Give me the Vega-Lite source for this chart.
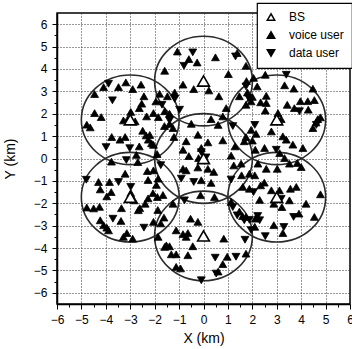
{
  "$schema": "https://vega.github.io/schema/vega-lite/v6.json",
  "width": 293,
  "height": 291,
  "autosize": {"type": "none"},
  "padding": {"left": 57, "top": 13, "right": 2, "bottom": 45},
  "background": "white",
  "config": {
    "font": "Liberation Sans",
    "view": {"stroke": "black", "strokeWidth": 1.5},
    "axis": {
      "domainColor": "black",
      "domainWidth": 1.5,
      "tickColor": "black",
      "tickWidth": 1,
      "labelColor": "black",
      "titleColor": "black",
      "labelFont": "Liberation Sans",
      "titleFont": "Liberation Sans",
      "labelFontSize": 12,
      "titleFontSize": 14,
      "titleFontWeight": "normal",
      "gridColor": "#333333",
      "gridDash": [1, 2],
      "gridWidth": 1,
      "labelOverlap": false,
      "labelFlush": false
    },
    "legend": {"strokeWidth": 1.2}
  },
  "datasets": {
    "cells": [
      {"x": 0, "y": 0}, {"x": 0, "y": 3.46}, {"x": 0, "y": -3.46},
      {"x": 3, "y": 1.73}, {"x": 3, "y": -1.73}, {"x": -3, "y": 1.73}, {"x": -3, "y": -1.73}
    ],
    "stations": [
      {"x": 0, "y": 0, "type": "BS"}, {"x": 0, "y": 3.46, "type": "BS"}, {"x": 0, "y": -3.46, "type": "BS"},
      {"x": 3, "y": 1.73, "type": "BS"}, {"x": 3, "y": -1.73, "type": "BS"}, {"x": -3, "y": 1.73, "type": "BS"}, {"x": -3, "y": -1.73, "type": "BS"}
    ],
    "users": [
      {"x": -4.09, "y": 3.19, "type": "voice user"}, {"x": -3.48, "y": 3.19, "type": "voice user"}, {"x": -3.18, "y": 3.40, "type": "voice user"},
      {"x": -2.90, "y": 3.10, "type": "voice user"}, {"x": -2.56, "y": 3.30, "type": "voice user"}, {"x": -4.46, "y": 2.88, "type": "voice user"},
      {"x": -2.44, "y": 2.78, "type": "voice user"}, {"x": -2.53, "y": 2.45, "type": "voice user"}, {"x": -2.63, "y": 2.25, "type": "voice user"},
      {"x": -2.05, "y": 2.03, "type": "voice user"}, {"x": -4.46, "y": 2.03, "type": "voice user"}, {"x": -4.19, "y": 1.85, "type": "voice user"},
      {"x": -2.98, "y": 2.08, "type": "voice user"}, {"x": -3.10, "y": 1.76, "type": "voice user"}, {"x": -2.80, "y": 1.66, "type": "voice user"},
      {"x": -3.28, "y": 1.70, "type": "voice user"}, {"x": -2.33, "y": 1.88, "type": "voice user"}, {"x": -4.78, "y": 1.51, "type": "voice user"},
      {"x": -4.64, "y": 1.39, "type": "voice user"}, {"x": -2.49, "y": 1.24, "type": "voice user"}, {"x": -2.35, "y": 1.03, "type": "voice user"},
      {"x": -3.76, "y": 0.96, "type": "voice user"}, {"x": -3.42, "y": 0.84, "type": "voice user"}, {"x": -3.21, "y": 0.96, "type": "voice user"},
      {"x": -2.26, "y": 0.84, "type": "voice user"}, {"x": -2.63, "y": 0.54, "type": "voice user"}, {"x": -2.05, "y": 0.61, "type": "voice user"},
      {"x": -2.75, "y": 0.16, "type": "voice user"}, {"x": -3.77, "y": -0.14, "type": "voice user"}, {"x": -2.20, "y": 1.05, "type": "voice user"},
      {"x": -2.13, "y": 0.68, "type": "voice user"},
      {"x": -1.07, "y": 4.78, "type": "voice user"}, {"x": -0.60, "y": 4.44, "type": "voice user"}, {"x": -0.26, "y": 4.29, "type": "voice user"},
      {"x": 0.49, "y": 4.52, "type": "voice user"}, {"x": 1.38, "y": 4.71, "type": "voice user"}, {"x": 1.74, "y": 4.14, "type": "voice user"},
      {"x": -1.59, "y": 3.92, "type": "voice user"}, {"x": 1.02, "y": 3.77, "type": "voice user"}, {"x": -0.84, "y": 3.30, "type": "voice user"},
      {"x": -0.40, "y": 3.10, "type": "voice user"}, {"x": 0.22, "y": 3.04, "type": "voice user"}, {"x": -1.18, "y": 2.95, "type": "voice user"},
      {"x": 1.76, "y": 3.46, "type": "voice user"}, {"x": 0.63, "y": 2.78, "type": "voice user"}, {"x": 1.47, "y": 2.78, "type": "voice user"},
      {"x": -1.80, "y": 2.89, "type": "voice user"}, {"x": -1.48, "y": 2.78, "type": "voice user"}, {"x": 1.74, "y": 2.40, "type": "voice user"},
      {"x": 0.93, "y": 2.25, "type": "voice user"}, {"x": -1.59, "y": 2.11, "type": "voice user"}, {"x": -1.39, "y": 2.00, "type": "voice user"},
      {"x": 0.31, "y": 1.76, "type": "voice user"}, {"x": 0.79, "y": 1.88, "type": "voice user"}, {"x": -1.39, "y": 1.55, "type": "voice user"},
      {"x": -1.25, "y": 1.36, "type": "voice user"}, {"x": -1.21, "y": 0.96, "type": "voice user"}, {"x": -0.71, "y": 0.77, "type": "voice user"},
      {"x": -0.23, "y": 1.06, "type": "voice user"}, {"x": 0.18, "y": 0.72, "type": "voice user"}, {"x": 0.79, "y": 0.81, "type": "voice user"},
      {"x": -0.09, "y": 0.47, "type": "voice user"}, {"x": -0.84, "y": 0.39, "type": "voice user"}, {"x": 1.29, "y": 0.54, "type": "voice user"},
      {"x": 1.74, "y": 0.96, "type": "voice user"}, {"x": 1.95, "y": 1.28, "type": "voice user"}, {"x": 1.67, "y": 0.77, "type": "voice user"},
      {"x": 1.13, "y": 0.13, "type": "voice user"}, {"x": -0.60, "y": 0.11, "type": "voice user"}, {"x": -0.20, "y": 0.02, "type": "voice user"},
      {"x": 2.53, "y": 3.74, "type": "voice user"}, {"x": 2.20, "y": 3.22, "type": "voice user"}, {"x": 3.32, "y": 3.27, "type": "voice user"},
      {"x": 3.70, "y": 3.12, "type": "voice user"}, {"x": 4.48, "y": 3.12, "type": "voice user"}, {"x": 2.57, "y": 2.80, "type": "voice user"},
      {"x": 2.34, "y": 2.51, "type": "voice user"}, {"x": 2.57, "y": 2.48, "type": "voice user"}, {"x": 3.43, "y": 2.40, "type": "voice user"},
      {"x": 3.97, "y": 2.56, "type": "voice user"}, {"x": 4.27, "y": 2.56, "type": "voice user"}, {"x": 4.54, "y": 2.61, "type": "voice user"},
      {"x": 3.72, "y": 2.25, "type": "voice user"}, {"x": 4.29, "y": 2.18, "type": "voice user"}, {"x": 2.53, "y": 2.14, "type": "voice user"},
      {"x": 3.05, "y": 2.03, "type": "voice user"}, {"x": 3.18, "y": 1.76, "type": "voice user"}, {"x": 4.68, "y": 1.76, "type": "voice user"},
      {"x": 4.61, "y": 1.61, "type": "voice user"}, {"x": 4.48, "y": 1.36, "type": "voice user"}, {"x": 4.79, "y": 1.84, "type": "voice user"},
      {"x": 2.78, "y": 1.21, "type": "voice user"}, {"x": 3.25, "y": 0.99, "type": "voice user"}, {"x": 3.39, "y": 0.84, "type": "voice user"},
      {"x": 3.66, "y": 0.62, "type": "voice user"}, {"x": 4.07, "y": 0.47, "type": "voice user"}, {"x": 2.50, "y": 0.47, "type": "voice user"},
      {"x": 3.12, "y": 0.24, "type": "voice user"}, {"x": 3.32, "y": 0.02, "type": "voice user"}, {"x": 2.12, "y": 0.39, "type": "voice user"},
      {"x": -2.69, "y": -0.16, "type": "voice user"}, {"x": -3.21, "y": -0.68, "type": "voice user"}, {"x": -2.30, "y": -0.56, "type": "voice user"},
      {"x": -4.30, "y": -1.05, "type": "voice user"}, {"x": -3.85, "y": -1.05, "type": "voice user"}, {"x": -4.23, "y": -1.38, "type": "voice user"},
      {"x": -3.78, "y": -1.50, "type": "voice user"}, {"x": -2.98, "y": -1.54, "type": "voice user"}, {"x": -3.96, "y": -1.69, "type": "voice user"},
      {"x": -2.84, "y": -1.87, "type": "voice user"}, {"x": -2.39, "y": -2.02, "type": "voice user"}, {"x": -4.78, "y": -2.19, "type": "voice user"},
      {"x": -4.50, "y": -2.23, "type": "voice user"}, {"x": -4.26, "y": -2.16, "type": "voice user"}, {"x": -2.67, "y": -2.31, "type": "voice user"},
      {"x": -4.23, "y": -2.76, "type": "voice user"}, {"x": -3.38, "y": -2.79, "type": "voice user"}, {"x": -4.09, "y": -2.98, "type": "voice user"},
      {"x": -3.96, "y": -3.09, "type": "voice user"}, {"x": -3.89, "y": -3.21, "type": "voice user"}, {"x": -2.05, "y": -2.83, "type": "voice user"},
      {"x": -3.14, "y": -3.33, "type": "voice user"}, {"x": -3.28, "y": -3.50, "type": "voice user"}, {"x": -2.90, "y": -3.58, "type": "voice user"},
      {"x": -2.05, "y": -0.53, "type": "voice user"}, {"x": -2.27, "y": -0.96, "type": "voice user"}, {"x": -1.93, "y": -1.18, "type": "voice user"},
      {"x": -2.27, "y": -1.78, "type": "voice user"}, {"x": -2.61, "y": -2.22, "type": "voice user"}, {"x": -1.87, "y": -2.30, "type": "voice user"},
      {"x": -3.36, "y": -2.22, "type": "voice user"},
      {"x": -0.84, "y": -0.46, "type": "voice user"}, {"x": -0.71, "y": -0.53, "type": "voice user"}, {"x": -0.23, "y": -0.40, "type": "voice user"},
      {"x": 0.18, "y": -0.46, "type": "voice user"}, {"x": 0.42, "y": -0.60, "type": "voice user"}, {"x": 1.24, "y": -0.31, "type": "voice user"},
      {"x": 1.54, "y": -0.23, "type": "voice user"}, {"x": -1.86, "y": -0.90, "type": "voice user"}, {"x": -0.09, "y": -0.97, "type": "voice user"},
      {"x": 0.31, "y": -1.09, "type": "voice user"}, {"x": 1.56, "y": -0.75, "type": "voice user"}, {"x": 1.88, "y": -0.68, "type": "voice user"},
      {"x": 1.61, "y": -1.27, "type": "voice user"}, {"x": 1.88, "y": -1.35, "type": "voice user"}, {"x": -1.89, "y": -1.72, "type": "voice user"},
      {"x": -1.25, "y": -2.02, "type": "voice user"}, {"x": -0.12, "y": -1.64, "type": "voice user"}, {"x": 0.45, "y": -1.72, "type": "voice user"},
      {"x": 1.13, "y": -1.94, "type": "voice user"}, {"x": 1.74, "y": -2.61, "type": "voice user"}, {"x": -1.62, "y": -2.64, "type": "voice user"},
      {"x": -0.53, "y": -2.69, "type": "voice user"}, {"x": -0.23, "y": -2.83, "type": "voice user"}, {"x": -2.07, "y": -1.55, "type": "voice user"},
      {"x": -1.66, "y": -1.63, "type": "voice user"}, {"x": 1.47, "y": -2.37, "type": "voice user"}, {"x": 1.60, "y": -2.57, "type": "voice user"},
      {"x": 2.49, "y": -1.08, "type": "voice user"},
      {"x": -1.12, "y": -3.21, "type": "voice user"}, {"x": -0.84, "y": -3.38, "type": "voice user"}, {"x": -0.71, "y": -3.50, "type": "voice user"},
      {"x": -0.64, "y": -3.33, "type": "voice user"}, {"x": -1.86, "y": -3.50, "type": "voice user"}, {"x": 0.83, "y": -3.58, "type": "voice user"},
      {"x": -1.52, "y": -3.88, "type": "voice user"}, {"x": -1.59, "y": -3.95, "type": "voice user"}, {"x": -1.39, "y": -3.92, "type": "voice user"},
      {"x": -0.44, "y": -3.92, "type": "voice user"}, {"x": -1.32, "y": -4.28, "type": "voice user"}, {"x": -1.12, "y": -4.28, "type": "voice user"},
      {"x": -0.64, "y": -4.32, "type": "voice user"}, {"x": 0.97, "y": -4.39, "type": "voice user"}, {"x": 1.74, "y": -4.25, "type": "voice user"},
      {"x": 0.79, "y": -4.72, "type": "voice user"}, {"x": -1.12, "y": -4.84, "type": "voice user"}, {"x": -0.94, "y": -4.91, "type": "voice user"},
      {"x": 0.60, "y": -5.05, "type": "voice user"},
      {"x": 2.23, "y": -0.23, "type": "voice user"}, {"x": 2.57, "y": -0.46, "type": "voice user"}, {"x": 3.02, "y": -0.46, "type": "voice user"},
      {"x": 3.52, "y": -0.23, "type": "voice user"}, {"x": 3.84, "y": -0.20, "type": "voice user"}, {"x": 4.00, "y": -0.38, "type": "voice user"},
      {"x": 2.34, "y": -1.20, "type": "voice user"}, {"x": 2.78, "y": -1.42, "type": "voice user"}, {"x": 3.11, "y": -1.42, "type": "voice user"},
      {"x": 3.56, "y": -1.35, "type": "voice user"}, {"x": 3.80, "y": -1.27, "type": "voice user"}, {"x": 4.79, "y": -1.60, "type": "voice user"},
      {"x": 2.88, "y": -2.02, "type": "voice user"}, {"x": 3.52, "y": -1.87, "type": "voice user"}, {"x": 3.21, "y": -2.17, "type": "voice user"},
      {"x": 4.20, "y": -2.02, "type": "voice user"}, {"x": 3.91, "y": -2.46, "type": "voice user"}, {"x": 4.54, "y": -2.61, "type": "voice user"},
      {"x": 2.12, "y": -2.69, "type": "voice user"}, {"x": 2.88, "y": -2.98, "type": "voice user"}, {"x": 3.25, "y": -3.33, "type": "voice user"},
      {"x": 1.80, "y": 2.95, "type": "voice user"}, {"x": 1.95, "y": 2.55, "type": "voice user"}, {"x": -1.95, "y": 2.55, "type": "voice user"},
      {"x": -1.85, "y": 1.85, "type": "voice user"}, {"x": -1.60, "y": 1.45, "type": "voice user"}, {"x": 2.05, "y": 3.60, "type": "voice user"},
      {"x": 2.00, "y": 2.75, "type": "voice user"}, {"x": 2.15, "y": 1.10, "type": "voice user"}, {"x": 2.00, "y": 0.80, "type": "voice user"},
      {"x": 2.10, "y": -0.75, "type": "voice user"}, {"x": 2.30, "y": -1.85, "type": "voice user"}, {"x": -1.75, "y": -2.90, "type": "voice user"},
      {"x": 2.10, "y": -3.05, "type": "voice user"}, {"x": -0.50, "y": 1.55, "type": "voice user"}, {"x": 0.60, "y": 1.50, "type": "voice user"},
      {"x": -1.90, "y": 0.20, "type": "voice user"},
      {"x": -3.89, "y": 3.34, "type": "data user"}, {"x": -3.73, "y": 2.60, "type": "data user"}, {"x": -3.99, "y": 0.51, "type": "data user"},
      {"x": -3.02, "y": 0.46, "type": "data user"}, {"x": -3.16, "y": -0.07, "type": "data user"}, {"x": -0.44, "y": 4.74, "type": "data user"},
      {"x": -0.80, "y": 4.14, "type": "data user"}, {"x": 1.31, "y": 4.56, "type": "data user"}, {"x": 1.74, "y": 3.22, "type": "data user"},
      {"x": -1.18, "y": 2.66, "type": "data user"}, {"x": -0.98, "y": 2.18, "type": "data user"}, {"x": -1.39, "y": 1.70, "type": "data user"},
      {"x": -0.09, "y": 0.28, "type": "data user"}, {"x": 0.10, "y": 0.05, "type": "data user"}, {"x": 3.39, "y": 3.74, "type": "data user"},
      {"x": 3.93, "y": 2.11, "type": "data user"}, {"x": 2.98, "y": 0.39, "type": "data user"}, {"x": 4.62, "y": 1.50, "type": "data user"},
      {"x": -4.80, "y": -0.95, "type": "data user"}, {"x": -3.48, "y": -1.05, "type": "data user"}, {"x": -2.98, "y": -1.27, "type": "data user"},
      {"x": -3.71, "y": -2.69, "type": "data user"}, {"x": -2.44, "y": -3.09, "type": "data user"}, {"x": -0.91, "y": -0.90, "type": "data user"},
      {"x": -0.40, "y": -1.05, "type": "data user"}, {"x": 1.13, "y": -0.94, "type": "data user"}, {"x": -0.78, "y": -1.87, "type": "data user"},
      {"x": 1.20, "y": -2.17, "type": "data user"}, {"x": 1.38, "y": -2.54, "type": "data user"}, {"x": 1.67, "y": -2.76, "type": "data user"},
      {"x": 1.70, "y": -3.63, "type": "data user"}, {"x": 0.48, "y": -4.43, "type": "data user"}, {"x": 1.33, "y": -4.39, "type": "data user"},
      {"x": 0.52, "y": -5.14, "type": "data user"}, {"x": -0.09, "y": -5.44, "type": "data user"}, {"x": 3.18, "y": -1.80, "type": "data user"},
      {"x": 3.69, "y": -2.61, "type": "data user"}, {"x": 2.30, "y": -2.76, "type": "data user"}, {"x": 3.29, "y": -3.06, "type": "data user"},
      {"x": 2.53, "y": -3.47, "type": "data user"}, {"x": 1.88, "y": -2.74, "type": "data user"}, {"x": 2.22, "y": -2.57, "type": "data user"},
      {"x": 1.85, "y": 2.70, "type": "data user"}, {"x": -1.70, "y": 2.40, "type": "data user"}, {"x": 2.10, "y": 1.50, "type": "data user"},
      {"x": 2.05, "y": -1.50, "type": "data user"}, {"x": 1.95, "y": -3.20, "type": "data user"}, {"x": 1.20, "y": 1.45, "type": "data user"},
      {"x": -1.75, "y": -0.30, "type": "data user"}
    ]
  },
  "encoding": {
    "x": {
      "field": "x",
      "type": "quantitative",
      "scale": {"domain": [-6, 6], "nice": false, "zero": false},
      "axis": {
        "title": "X (km)",
        "values": [-6, -5.5, -5, -4.5, -4, -3.5, -3, -2.5, -2, -1.5, -1, -0.5, 0, 0.5, 1, 1.5, 2, 2.5, 3, 3.5, 4, 4.5, 5, 5.5, 6],
        "labelExpr": "datum.value % 1 === 0 ? format(datum.value, 'd') : ''",
        "tickSize": {"condition": {"test": "datum.value % 1 !== 0", "value": 3}, "value": 5},
        "gridOpacity": {"condition": {"test": "datum.value % 1 !== 0", "value": 0}, "value": 1},
        "labelPadding": 5,
        "titlePadding": 6
      }
    },
    "y": {
      "field": "y",
      "type": "quantitative",
      "scale": {"domain": [-6.5, 6.5], "nice": false, "zero": false},
      "axis": {
        "title": "Y (km)",
        "values": [-6, -5.5, -5, -4.5, -4, -3.5, -3, -2.5, -2, -1.5, -1, -0.5, 0, 0.5, 1, 1.5, 2, 2.5, 3, 3.5, 4, 4.5, 5, 5.5, 6],
        "labelExpr": "datum.value % 1 === 0 ? format(datum.value, 'd') : ''",
        "tickSize": {"condition": {"test": "datum.value % 1 !== 0", "value": 3}, "value": 5},
        "gridOpacity": {"condition": {"test": "datum.value % 1 !== 0", "value": 0}, "value": 1},
        "labelPadding": 5,
        "titlePadding": 16
      }
    }
  },
  "layer": [
    {
      "data": {"name": "cells"},
      "mark": {
        "type": "point",
        "shape": "M-1,0A1,0.917,0,1,0,1,0A1,0.917,0,1,0,-1,0Z",
        "size": 9565,
        "filled": false,
        "stroke": "#2b2b2b",
        "strokeWidth": 1.6,
        "opacity": 1
      }
    },
    {
      "data": {"name": "users"},
      "mark": {"type": "point", "filled": true, "stroke": "black", "strokeWidth": 0.8, "size": 62, "opacity": 1},
      "encoding": {
        "shape": {
          "field": "type",
          "type": "nominal",
          "scale": {"domain": ["BS", "voice user", "data user"], "range": ["triangle-up", "triangle-up", "triangle-down"]},
          "legend": {
            "title": null,
            "orient": "none",
            "legendX": 200,
            "legendY": -10,
            "fillColor": "white",
            "strokeColor": "black",
            "padding": 8,
            "labelFontSize": 12,
            "labelFont": "Liberation Sans",
            "labelColor": "black",
            "labelOffset": 12,
            "rowPadding": 4,
            "symbolSize": 55,
            "encode": {
              "symbols": {
                "update": {"stroke": {"value": "black"}, "strokeWidth": {"value": 1}}
              }
            }
          }
        },
        "fill": {
          "field": "type",
          "type": "nominal",
          "scale": {"domain": ["BS", "voice user", "data user"], "range": ["white", "black", "black"]}
        }
      }
    },
    {
      "data": {"name": "stations"},
      "mark": {"type": "point", "filled": true, "stroke": "black", "strokeWidth": 1.6, "size": 140, "opacity": 1},
      "encoding": {
        "shape": {"field": "type", "type": "nominal"},
        "fill": {"field": "type", "type": "nominal"}
      }
    }
  ]
}
